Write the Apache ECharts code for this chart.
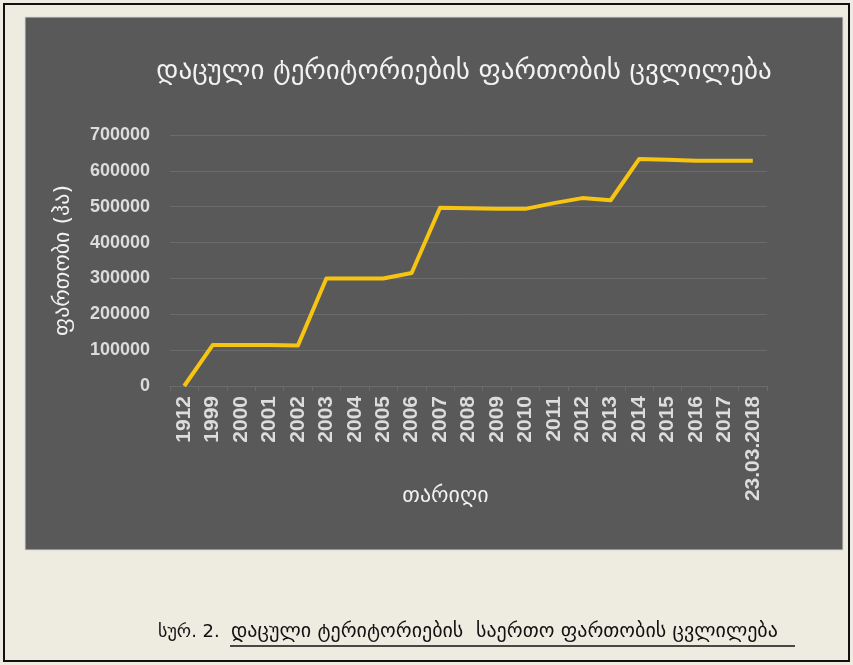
<!DOCTYPE html>
<html>
<head>
<meta charset="utf-8">
<script src="https://cdn.jsdelivr.net/npm/echarts@6/dist/echarts.min.js"></script>
<style>
  html, body { margin: 0; padding: 0; background: #eeebe1; }
  #chart { width: 853px; height: 665px; }
</style>
</head>
<body>
<div id="chart"></div>
<script>
// data
const categories = ['1912', '1999', '2000', '2001', '2002', '2003', '2004', '2005', '2006', '2007', '2008',
    '2009', '2010', '2011', '2012', '2013', '2014', '2015', '2016', '2017', '23.03.2018'];
const areaValues = [0, 114000, 114000, 114000, 113000, 300000, 300000, 300000, 315000, 497000, 496000,
    494000, 494000, 510000, 524000, 518000, 633000, 631000, 628000, 628000, 628000];
const yTicks = [0, 100000, 200000, 300000, 400000, 500000, 600000, 700000];

const titleText = 'დაცული ტერიტორიების ფართობის ცვლილება';
const yName = 'ფართობი (ჰა)';
const xName = 'თარიღი';
const captionLead = 'სურ. 2.';
const captionText = 'დაცული ტერიტორიების  საერთო ფართობის ცვლილება';

const geo = '"DejaVu Sans", "Noto Sans", sans-serif';
const num = '"Liberation Sans", Arial, sans-serif';
const labelColor = '#dcdcdc';
const gridColor = '#6b6b6b';

const chart = echarts.init(document.getElementById('chart'));

chart.setOption({
    backgroundColor: '#eeebe1',
    animation: false,
    title: {
        text: titleText,
        left: 459,
        top: 53,
        textAlign: 'center',
        textStyle: {color: '#f2f2f2', fontFamily: geo, fontSize: 27, fontWeight: 'normal'}
    },
    grid: {left: 170, right: 86, top: 135, bottom: 279, containLabel: false},
    xAxis: {
        type: 'category',
        data: categories,
        boundaryGap: true,
        name: xName,
        nameLocation: 'middle',
        nameGap: 99,
        nameMoveOverlap: false,
        nameTextStyle: {color: '#f2f2f2', fontFamily: geo, fontSize: 22, padding: [0, 46, 0, 0]},
        axisLine: {lineStyle: {color: gridColor}},
        axisTick: {show: true, length: 5, lineStyle: {color: gridColor}},
        axisLabel: {
            rotate: 90,
            interval: 0,
            margin: 10,
            color: labelColor,
            fontFamily: num,
            fontWeight: 'bold',
            fontSize: 21
        }
    },
    yAxis: {
        type: 'value',
        min: yTicks[0],
        max: yTicks[yTicks.length - 1],
        interval: yTicks[1] - yTicks[0],
        name: yName,
        nameLocation: 'middle',
        nameGap: 96,
        nameRotate: 90,
        nameTextStyle: {color: '#f2f2f2', fontFamily: geo, fontSize: 22},
        axisLine: {show: false},
        axisTick: {show: false},
        splitLine: {lineStyle: {color: gridColor, width: 1}},
        axisLabel: {
            margin: 20,
            color: labelColor,
            fontFamily: num,
            fontWeight: 'bold',
            fontSize: 18,
            formatter: (v) => String(v)
        }
    },
    series: [{
        type: 'line',
        data: areaValues,
        symbol: 'none',
        lineStyle: {color: '#f7c412', width: 4, join: 'round'},
        z: 5
    }],
    graphic: [
        {
            type: 'rect', z: -20, silent: true,
            shape: {x: 4, y: 4, width: 845, height: 657},
            style: {fill: '#eeebe1', stroke: '#111', lineWidth: 2}
        },
        {
            type: 'rect', z: -10, silent: true,
            shape: {x: 25, y: 17, width: 818, height: 533},
            style: {fill: '#595959', stroke: '#d8d8d8', lineWidth: 1}
        },
        {
            type: 'text', z: 10,
            style: {
                x: 158, y: 632, text: captionLead, fill: '#111',
                font: '18px ' + geo, verticalAlign: 'middle'
            }
        },
        {
            type: 'text', z: 10,
            style: {
                x: 231, y: 632, text: captionText, fill: '#111',
                font: '20px ' + geo, verticalAlign: 'middle'
            }
        },
        {
            type: 'line', z: 10, silent: true,
            shape: {x1: 230, y1: 646, x2: 795, y2: 646},
            style: {stroke: '#111', lineWidth: 1.5}
        }
    ]
});
</script>
</body>
</html>
